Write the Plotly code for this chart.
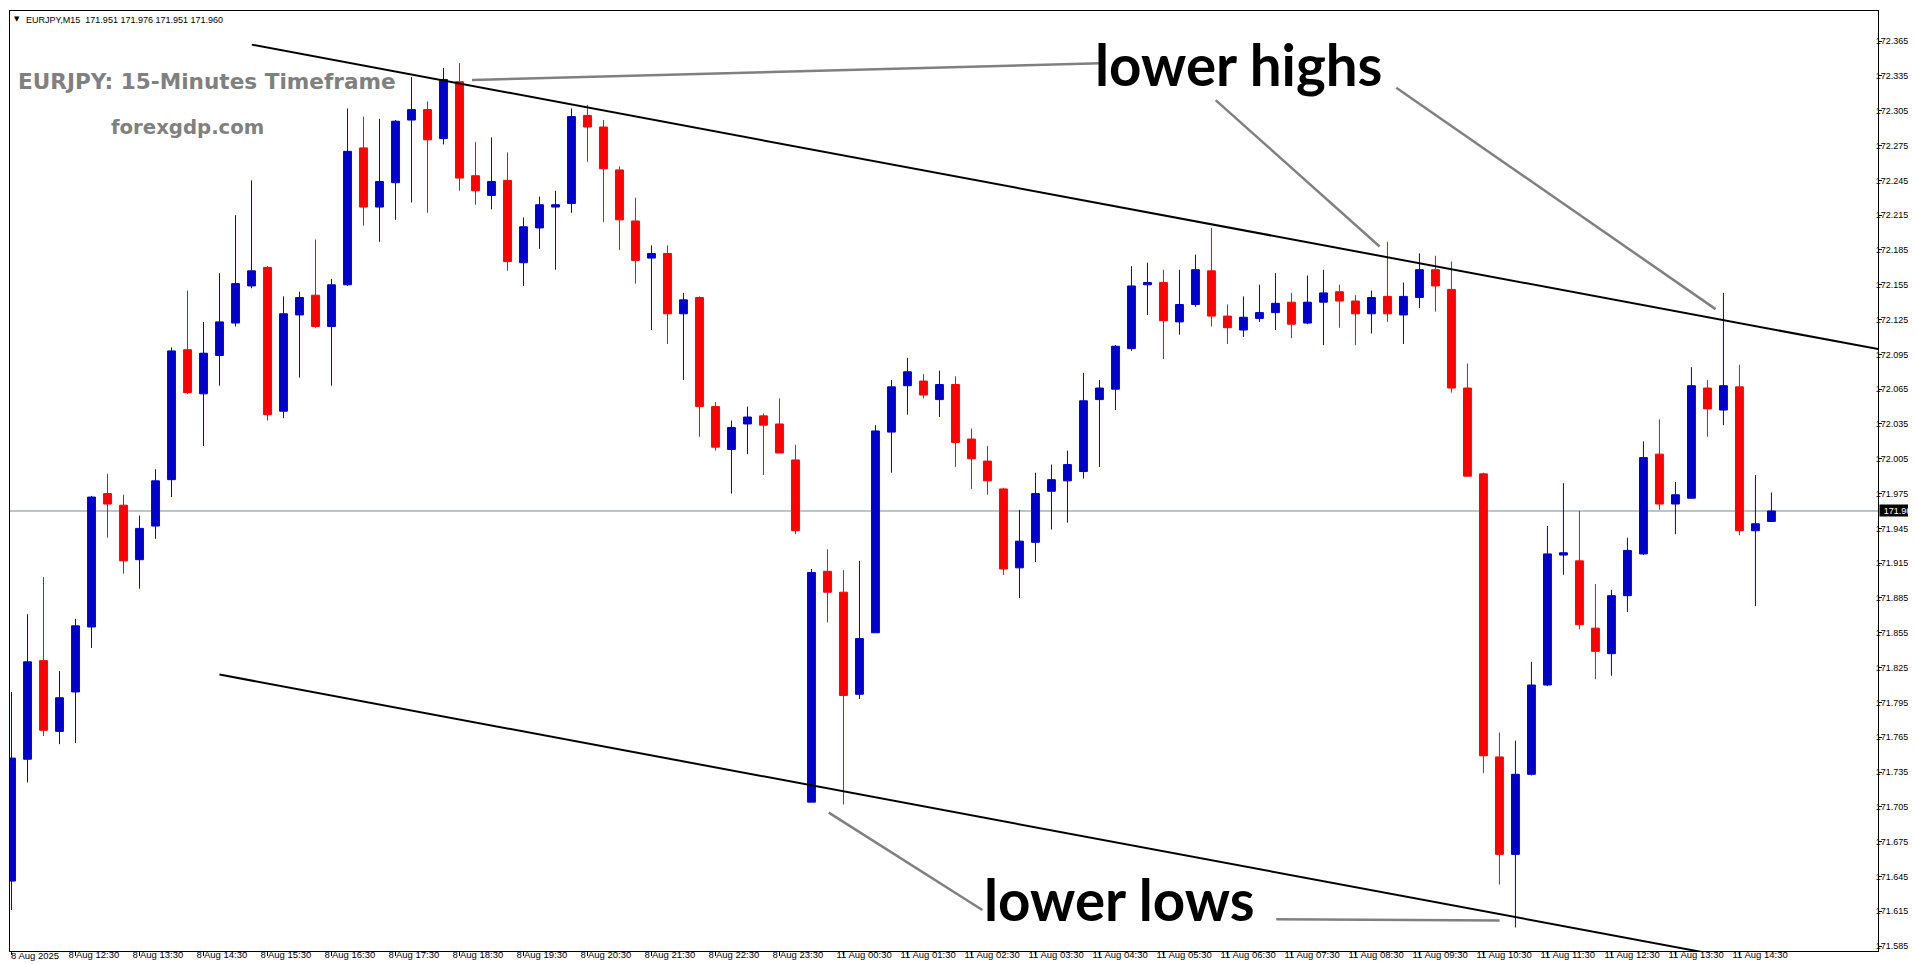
import plotly.graph_objects as go
import pandas as pd

# ---------------- data ----------------
header_text = "EURJPY,M15\u00a0\u00a0171.951 171.976 171.951 171.960"
title_text = "EURJPY: 15-Minutes Timeframe"
site_text = "forexgdp.com"
highs_label = "lower highs"
lows_label = "lower lows"
first_date_label = "8 Aug 2025"
last_price = 171.960

opens = [171.641, 171.746, 171.831, 171.770, 171.804, 171.860, 171.975, 171.965, 171.918, 171.947,
         171.987, 172.099, 172.061, 172.094, 172.122, 172.154, 172.170, 172.046, 172.129, 172.146,
         172.119, 172.155, 172.273, 172.222, 172.243, 172.297, 172.306, 172.281, 172.330, 172.249,
         172.232, 172.245, 172.174, 172.204, 172.222, 172.225, 172.301, 172.291, 172.254, 172.210,
         172.178, 172.182, 172.130, 172.144, 172.050, 172.013, 172.035, 172.042, 172.035, 172.004,
         171.709, 171.908, 171.890, 171.802, 171.855, 172.028, 172.068, 172.072, 172.056, 172.069,
         172.022, 172.003, 171.979, 171.911, 171.933, 171.977, 171.986, 171.994, 172.056, 172.065,
         172.100, 172.155, 172.157, 172.123, 172.138, 172.167, 172.128, 172.116, 172.126, 172.131,
         172.140, 172.122, 172.140, 172.149, 172.141, 172.130, 172.145, 172.129, 172.144, 172.168,
         172.151, 172.066, 171.992, 171.748, 171.664, 171.733, 171.810, 171.922, 171.917, 171.859,
         171.837, 171.887, 171.923, 172.009, 171.966, 171.971, 172.066, 172.047, 172.067, 171.943,
         171.951]
highs = [171.804, 171.871, 171.903, 171.822, 171.867, 171.973, 171.992, 171.974, 171.956, 171.996,
         172.101, 172.150, 172.123, 172.165, 172.215, 172.245, 172.171, 172.145, 172.149, 172.194,
         172.160, 172.307, 172.300, 172.298, 172.297, 172.334, 172.313, 172.342, 172.346, 172.278,
         172.282, 172.269, 172.213, 172.231, 172.236, 172.307, 172.310, 172.297, 172.257, 172.230,
         172.189, 172.189, 172.148, 172.145, 172.054, 172.038, 172.050, 172.044, 172.057, 172.017,
         171.910, 171.927, 171.909, 171.917, 172.034, 172.073, 172.092, 172.078, 172.081, 172.076,
         172.031, 172.016, 171.980, 171.961, 171.993, 172.000, 172.012, 172.079, 172.073, 172.103,
         172.171, 172.174, 172.168, 172.168, 172.181, 172.204, 172.138, 172.145, 172.155, 172.165,
         172.148, 172.163, 172.168, 172.155, 172.146, 172.150, 172.192, 172.157, 172.182, 172.180,
         172.175, 172.087, 171.993, 171.769, 171.762, 171.830, 171.947, 171.984, 171.960, 171.897,
         171.892, 171.937, 172.020, 172.039, 171.985, 172.084, 172.073, 172.148, 172.086, 171.991,
         171.976]
lows = [171.616, 171.726, 171.766, 171.759, 171.760, 171.842, 171.937, 171.906, 171.893, 171.936,
        171.972, 172.061, 172.016, 172.068, 172.119, 172.152, 172.038, 172.040, 172.075, 172.118,
        172.068, 172.154, 172.206, 172.192, 172.211, 172.226, 172.217, 172.276, 172.236, 172.224,
        172.220, 172.167, 172.154, 172.186, 172.168, 172.217, 172.261, 172.209, 172.185, 172.156,
        172.116, 172.104, 172.073, 172.024, 172.012, 171.975, 172.009, 171.991, 172.010, 171.940,
        171.709, 171.864, 171.707, 171.798, 171.855, 171.993, 172.043, 172.057, 172.041, 171.998,
        171.979, 171.974, 171.905, 171.885, 171.916, 171.944, 171.950, 171.988, 171.998, 172.047,
        172.098, 172.129, 172.091, 172.112, 172.136, 172.119, 172.104, 172.110, 172.123, 172.116,
        172.109, 172.121, 172.103, 172.118, 172.103, 172.113, 172.123, 172.104, 172.135, 172.132,
        172.062, 171.990, 171.734, 171.638, 171.601, 171.732, 171.809, 171.905, 171.858, 171.815,
        171.818, 171.873, 171.922, 171.961, 171.940, 171.971, 172.024, 172.034, 171.939, 171.878,
        171.951]
closes = [171.747, 171.830, 171.771, 171.799, 171.861, 171.972, 171.966, 171.917, 171.945, 171.986,
          172.098, 172.062, 172.096, 172.123, 172.156, 172.167, 172.043, 172.130, 172.144, 172.119,
          172.155, 172.270, 172.222, 172.244, 172.296, 172.306, 172.280, 172.332, 172.247, 172.236,
          172.244, 172.175, 172.205, 172.224, 172.224, 172.300, 172.291, 172.255, 172.211, 172.176,
          172.182, 172.130, 172.142, 172.050, 172.015, 172.032, 172.041, 172.034, 172.010, 171.943,
          171.907, 171.890, 171.801, 171.850, 172.029, 172.067, 172.080, 172.060, 172.069, 172.019,
          172.005, 171.986, 171.910, 171.934, 171.975, 171.987, 172.000, 172.055, 172.066, 172.102,
          172.154, 172.157, 172.124, 172.138, 172.168, 172.128, 172.118, 172.127, 172.131, 172.139,
          172.121, 172.140, 172.148, 172.141, 172.130, 172.144, 172.130, 172.145, 172.168, 172.154,
          172.066, 171.990, 171.749, 171.664, 171.733, 171.810, 171.923, 171.924, 171.862, 171.839,
          171.887, 171.926, 172.006, 171.966, 171.974, 172.068, 172.048, 172.068, 171.943, 171.949,
          171.960]

# bar times: Friday session then Monday session (weekend skipped)
bar_times = list(pd.date_range("2025-08-08 11:30", "2025-08-08 23:45", freq="15min")) + \
            list(pd.date_range("2025-08-11 00:00", "2025-08-11 15:00", freq="15min"))
bar_labels = [f"{t.day} {t.strftime('%b %H:%M')}" for t in bar_times]

tick_at = ["8 Aug 12:30", "8 Aug 13:30", "8 Aug 14:30", "8 Aug 15:30", "8 Aug 16:30",
           "8 Aug 17:30", "8 Aug 18:30", "8 Aug 19:30", "8 Aug 20:30", "8 Aug 21:30", "8 Aug 22:30",
           "8 Aug 23:30", "11 Aug 00:30", "11 Aug 01:30", "11 Aug 02:30", "11 Aug 03:30", "11 Aug 04:30",
           "11 Aug 05:30", "11 Aug 06:30", "11 Aug 07:30", "11 Aug 08:30", "11 Aug 09:30", "11 Aug 10:30",
           "11 Aug 11:30", "11 Aug 12:30", "11 Aug 13:30", "11 Aug 14:30"]

price_ticks = [172.365, 172.335, 172.305, 172.275, 172.245, 172.215, 172.185, 172.155, 172.125,
               172.095, 172.065, 172.035, 172.005, 171.975, 171.945, 171.915, 171.885, 171.855,
               171.825, 171.795, 171.765, 171.735, 171.705, 171.675, 171.645, 171.615, 171.585]

# trend lines and callout lines as (bar position, price)
upper_trend = [(15.02, 172.362), (118.0, 172.0961)]
lower_trend = [(13.0, 171.819), (110.0, 171.5686)]
callouts = [
    [(28.78, 172.3316), (68.10, 172.346)],
    [(75.26, 172.3142), (85.51, 172.188)],
    [(86.55, 172.3248), (106.51, 172.134)],
    [(51.08, 171.700), (60.68, 171.616)],
    [(79.05, 171.608), (93.01, 171.607)],
]

# ---------------- figure ----------------
W, H = 1916, 964
ML, MR, MT, MB = 2, 46, 3, 21
PW, PH = W - ML - MR, H - MT - MB


def px(x):
    return (x - ML) / PW


def py(y):
    return 1 - (y - MT) / PH


xpos = list(range(len(bar_labels)))
BLUE = "#0000CC"
RED = "#FF0000"

fig = go.Figure()
fig.add_trace(go.Candlestick(
    x=xpos, open=opens, high=highs, low=lows, close=closes,
    increasing=dict(line=dict(color=BLUE, width=1), fillcolor=BLUE),
    decreasing=dict(line=dict(color=RED, width=1), fillcolor=RED),
    whiskerwidth=0, hoverinfo="skip", showlegend=False,
))

for seg, col, wdt in [(upper_trend, "black", 2), (lower_trend, "black", 2)] + \
        [(c, "#808080", 2.5) for c in callouts]:
    fig.add_trace(go.Scatter(
        x=[p[0] for p in seg], y=[p[1] for p in seg], mode="lines",
        line=dict(color=col, width=wdt), hoverinfo="skip", showlegend=False,
    ))

fig.add_shape(type="line", xref="paper", x0=0, x1=1, yref="y", y0=last_price, y1=last_price,
              line=dict(color="#778899", width=1), layer="below")
# tick mark for the first (date) label
fig.add_shape(type="line", xref="x", x0=0, x1=0, yref="paper", y0=0, y1=-4 / PH,
              line=dict(color="black", width=1))

tick_font = dict(family="Liberation Sans, Arial, sans-serif", size=9, color="black")

fig.update_layout(
    width=W, height=H,
    margin=dict(l=ML, r=MR, t=MT, b=MB, pad=0),
    paper_bgcolor="white", plot_bgcolor="white",
    showlegend=False,
    xaxis=dict(
        range=[-0.094, 116.66], rangeslider=dict(visible=False), automargin=False,
        tickmode="array", tickvals=[bar_labels.index(t) for t in tick_at], ticktext=tick_at,
        ticks="outside", ticklen=4, tickcolor="black", tickwidth=1,
        ticklabelposition="outside right", tickangle=0, ticklabelstandoff=-5, ticklabelshift=-8,
        showgrid=False, zeroline=False,
        showline=True, linecolor="black", linewidth=1, mirror=True,
        tickfont=dict(family="Liberation Sans, Arial, sans-serif", size=9.5, color="black"),
    ),
    yaxis=dict(
        range=[171.5807, 172.391], side="right", automargin=False,
        tickmode="array", tickvals=price_ticks, ticktext=[f"{v:.3f}" for v in price_ticks],
        ticks="outside", ticklen=3, tickcolor="black", tickwidth=1,
        ticklabelstandoff=-8,
        showgrid=False, zeroline=False,
        showline=True, linecolor="black", linewidth=1, mirror=True,
        tickfont=tick_font,
    ),
)

anns = [
    dict(text="\u25bc", x=px(4), y=py(11), font=dict(family="DejaVu Sans", size=7, color="black")),
    dict(text=header_text, x=px(16), y=py(11.5), font=dict(family="Liberation Sans", size=9, color="black")),
    dict(text="<b>" + title_text + "</b>", x=px(8), y=py(73),
         font=dict(family="DejaVu Sans", size=21.6, color="#808080")),
    dict(text="<b>" + site_text + "</b>", x=px(101), y=py(120),
         font=dict(family="DejaVu Sans", size=19.7, color="#808080")),
    dict(text="<b>" + highs_label + "</b>", x=px(1085), y=py(56),
         font=dict(family="Lato", size=56.5, color="black")),
    dict(text="<b>" + lows_label + "</b>", x=px(974), y=py(891),
         font=dict(family="Lato", size=56.5, color="black")),
    dict(text=first_date_label, x=px(1), y=py(948),
         font=dict(family="Liberation Sans, Arial, sans-serif", size=9.5, color="black")),
]
for a in anns:
    fig.add_annotation(xref="paper", yref="paper", xanchor="left", yanchor="middle",
                       showarrow=False, **a)

fig.add_annotation(xref="paper", yref="y", x=1, y=last_price, xanchor="left", yanchor="middle",
                   xshift=1, text=f"{last_price:.3f}", showarrow=False, bgcolor="black",
                   width=40, height=11, borderpad=0,
                   font=dict(family="Liberation Sans", size=9, color="white"))

fig.write_html("out.html")
